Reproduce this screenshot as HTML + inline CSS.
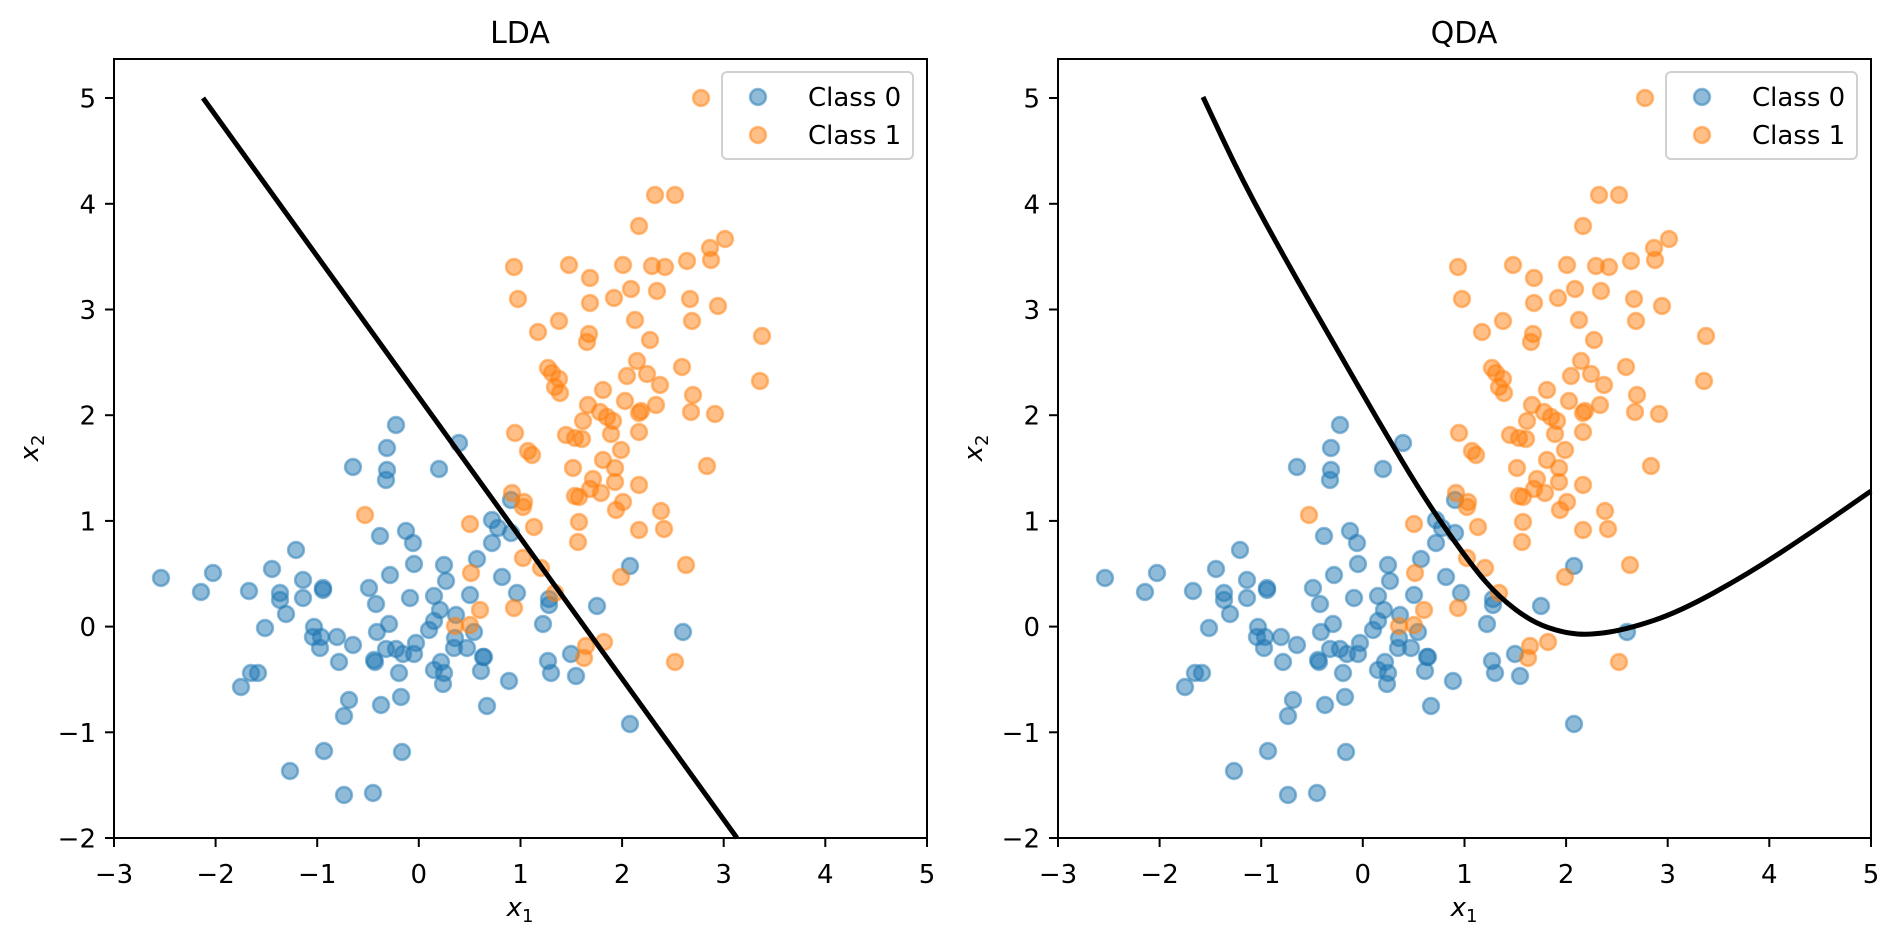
<!DOCTYPE html>
<html><head><meta charset="utf-8"><style>
html,body{margin:0;padding:0;background:#fff;}
svg{display:block;font-family:"DejaVu Sans","Liberation Sans",sans-serif;}
</style></head><body>
<svg width="1900" height="940" viewBox="0 0 1900 940" xmlns="http://www.w3.org/2000/svg">
<defs>
<g id="pts">
<g fill="rgba(31,119,180,0.5)" stroke="rgba(31,119,180,0.5)" stroke-width="2.6">
<circle cx="161" cy="578" r="7.9"/><circle cx="201" cy="592" r="7.9"/><circle cx="213" cy="573" r="7.9"/><circle cx="241" cy="687" r="7.9"/><circle cx="251" cy="673" r="7.9"/><circle cx="258" cy="673" r="7.9"/><circle cx="249" cy="591" r="7.9"/><circle cx="265" cy="628" r="7.9"/><circle cx="272" cy="569" r="7.9"/><circle cx="280" cy="593" r="7.9"/><circle cx="280" cy="600" r="7.9"/><circle cx="286" cy="614" r="7.9"/><circle cx="296" cy="550" r="7.9"/><circle cx="303" cy="580" r="7.9"/><circle cx="303" cy="598" r="7.9"/><circle cx="323" cy="588" r="7.9"/><circle cx="323" cy="590" r="7.9"/><circle cx="314" cy="627" r="7.9"/><circle cx="313" cy="637" r="7.9"/><circle cx="321" cy="637" r="7.9"/><circle cx="320" cy="648" r="7.9"/><circle cx="337" cy="637" r="7.9"/><circle cx="353" cy="645" r="7.9"/><circle cx="339" cy="662" r="7.9"/><circle cx="353" cy="467" r="7.9"/><circle cx="387" cy="448" r="7.9"/><circle cx="396" cy="425" r="7.9"/><circle cx="387" cy="470" r="7.9"/><circle cx="386" cy="480" r="7.9"/><circle cx="290" cy="771" r="7.9"/><circle cx="324" cy="751" r="7.9"/><circle cx="344" cy="795" r="7.9"/><circle cx="373" cy="793" r="7.9"/><circle cx="349" cy="700" r="7.9"/><circle cx="344" cy="716" r="7.9"/><circle cx="381" cy="705" r="7.9"/><circle cx="401" cy="697" r="7.9"/><circle cx="402" cy="752" r="7.9"/><circle cx="380" cy="536" r="7.9"/><circle cx="406" cy="531" r="7.9"/><circle cx="413" cy="543" r="7.9"/><circle cx="414" cy="564" r="7.9"/><circle cx="390" cy="575" r="7.9"/><circle cx="369" cy="588" r="7.9"/><circle cx="376" cy="604" r="7.9"/><circle cx="410" cy="598" r="7.9"/><circle cx="389" cy="624" r="7.9"/><circle cx="377" cy="632" r="7.9"/><circle cx="386" cy="649" r="7.9"/><circle cx="396" cy="649" r="7.9"/><circle cx="403" cy="654" r="7.9"/><circle cx="414" cy="654" r="7.9"/><circle cx="416" cy="643" r="7.9"/><circle cx="374" cy="660" r="7.9"/><circle cx="375" cy="662" r="7.9"/><circle cx="399" cy="673" r="7.9"/><circle cx="439" cy="469" r="7.9"/><circle cx="459" cy="443" r="7.9"/><circle cx="444" cy="565" r="7.9"/><circle cx="446" cy="581" r="7.9"/><circle cx="434" cy="596" r="7.9"/><circle cx="440" cy="610" r="7.9"/><circle cx="434" cy="621" r="7.9"/><circle cx="429" cy="630" r="7.9"/><circle cx="456" cy="615" r="7.9"/><circle cx="455" cy="638" r="7.9"/><circle cx="454" cy="648" r="7.9"/><circle cx="467" cy="648" r="7.9"/><circle cx="470" cy="595" r="7.9"/><circle cx="477" cy="559" r="7.9"/><circle cx="474" cy="632" r="7.9"/><circle cx="483" cy="657" r="7.9"/><circle cx="481" cy="671" r="7.9"/><circle cx="441" cy="662" r="7.9"/><circle cx="434" cy="670" r="7.9"/><circle cx="444" cy="673" r="7.9"/><circle cx="443" cy="684" r="7.9"/><circle cx="492" cy="520" r="7.9"/><circle cx="498" cy="528" r="7.9"/><circle cx="492" cy="543" r="7.9"/><circle cx="502" cy="577" r="7.9"/><circle cx="511" cy="500" r="7.9"/><circle cx="509" cy="681" r="7.9"/><circle cx="487" cy="706" r="7.9"/><circle cx="511" cy="533" r="7.9"/><circle cx="517" cy="593" r="7.9"/><circle cx="549" cy="599" r="7.9"/><circle cx="549" cy="605" r="7.9"/><circle cx="543" cy="624" r="7.9"/><circle cx="597" cy="606" r="7.9"/><circle cx="630" cy="566" r="7.9"/><circle cx="683" cy="632" r="7.9"/><circle cx="571" cy="654" r="7.9"/><circle cx="548" cy="661" r="7.9"/><circle cx="551" cy="673" r="7.9"/><circle cx="576" cy="676" r="7.9"/><circle cx="630" cy="724" r="7.9"/><circle cx="484" cy="657" r="7.9"/>
</g>
<g fill="rgba(255,127,14,0.5)" stroke="rgba(255,127,14,0.5)" stroke-width="2.6">
<circle cx="701" cy="98" r="7.9"/><circle cx="655" cy="195" r="7.9"/><circle cx="675" cy="195" r="7.9"/><circle cx="639" cy="226" r="7.9"/><circle cx="725" cy="239" r="7.9"/><circle cx="710" cy="248" r="7.9"/><circle cx="711" cy="260" r="7.9"/><circle cx="514" cy="267" r="7.9"/><circle cx="569" cy="265" r="7.9"/><circle cx="623" cy="265" r="7.9"/><circle cx="652" cy="266" r="7.9"/><circle cx="665" cy="267" r="7.9"/><circle cx="687" cy="261" r="7.9"/><circle cx="590" cy="278" r="7.9"/><circle cx="518" cy="299" r="7.9"/><circle cx="590" cy="303" r="7.9"/><circle cx="614" cy="298" r="7.9"/><circle cx="631" cy="289" r="7.9"/><circle cx="657" cy="291" r="7.9"/><circle cx="690" cy="299" r="7.9"/><circle cx="718" cy="306" r="7.9"/><circle cx="559" cy="321" r="7.9"/><circle cx="538" cy="332" r="7.9"/><circle cx="635" cy="320" r="7.9"/><circle cx="692" cy="321" r="7.9"/><circle cx="589" cy="334" r="7.9"/><circle cx="587" cy="342" r="7.9"/><circle cx="650" cy="340" r="7.9"/><circle cx="762" cy="336" r="7.9"/><circle cx="548" cy="368" r="7.9"/><circle cx="552" cy="373" r="7.9"/><circle cx="559" cy="379" r="7.9"/><circle cx="555" cy="387" r="7.9"/><circle cx="560" cy="393" r="7.9"/><circle cx="637" cy="361" r="7.9"/><circle cx="627" cy="376" r="7.9"/><circle cx="647" cy="374" r="7.9"/><circle cx="660" cy="385" r="7.9"/><circle cx="682" cy="367" r="7.9"/><circle cx="760" cy="381" r="7.9"/><circle cx="603" cy="390" r="7.9"/><circle cx="625" cy="401" r="7.9"/><circle cx="693" cy="395" r="7.9"/><circle cx="588" cy="405" r="7.9"/><circle cx="600" cy="412" r="7.9"/><circle cx="607" cy="417" r="7.9"/><circle cx="613" cy="421" r="7.9"/><circle cx="641" cy="411" r="7.9"/><circle cx="639" cy="413" r="7.9"/><circle cx="656" cy="405" r="7.9"/><circle cx="691" cy="412" r="7.9"/><circle cx="715" cy="414" r="7.9"/><circle cx="515" cy="433" r="7.9"/><circle cx="583" cy="421" r="7.9"/><circle cx="566" cy="435" r="7.9"/><circle cx="575" cy="438" r="7.9"/><circle cx="582" cy="439" r="7.9"/><circle cx="611" cy="434" r="7.9"/><circle cx="639" cy="432" r="7.9"/><circle cx="528" cy="451" r="7.9"/><circle cx="532" cy="455" r="7.9"/><circle cx="621" cy="450" r="7.9"/><circle cx="603" cy="460" r="7.9"/><circle cx="573" cy="468" r="7.9"/><circle cx="615" cy="468" r="7.9"/><circle cx="707" cy="466" r="7.9"/><circle cx="593" cy="479" r="7.9"/><circle cx="615" cy="482" r="7.9"/><circle cx="639" cy="485" r="7.9"/><circle cx="590" cy="489" r="7.9"/><circle cx="575" cy="496" r="7.9"/><circle cx="579" cy="497" r="7.9"/><circle cx="601" cy="493" r="7.9"/><circle cx="512" cy="493" r="7.9"/><circle cx="524" cy="502" r="7.9"/><circle cx="523" cy="507" r="7.9"/><circle cx="623" cy="502" r="7.9"/><circle cx="616" cy="510" r="7.9"/><circle cx="661" cy="511" r="7.9"/><circle cx="664" cy="529" r="7.9"/><circle cx="639" cy="530" r="7.9"/><circle cx="470" cy="524" r="7.9"/><circle cx="534" cy="527" r="7.9"/><circle cx="579" cy="522" r="7.9"/><circle cx="578" cy="542" r="7.9"/><circle cx="523" cy="558" r="7.9"/><circle cx="541" cy="568" r="7.9"/><circle cx="686" cy="565" r="7.9"/><circle cx="471" cy="573" r="7.9"/><circle cx="621" cy="577" r="7.9"/><circle cx="365" cy="515" r="7.9"/><circle cx="480" cy="610" r="7.9"/><circle cx="470" cy="625" r="7.9"/><circle cx="455" cy="626" r="7.9"/><circle cx="555" cy="593" r="7.9"/><circle cx="514" cy="608" r="7.9"/><circle cx="586" cy="646" r="7.9"/><circle cx="604" cy="642" r="7.9"/><circle cx="584" cy="658" r="7.9"/><circle cx="675" cy="662" r="7.9"/>
</g>
</g>
<g id="frame">
<rect x="114" y="59" width="813" height="779" fill="none" stroke="#000" stroke-width="2"/>
<g stroke="#000" stroke-width="2">
<line x1="114" y1="838" x2="114" y2="847"/><line x1="215.6" y1="838" x2="215.6" y2="847"/><line x1="317.2" y1="838" x2="317.2" y2="847"/><line x1="418.8" y1="838" x2="418.8" y2="847"/><line x1="520.5" y1="838" x2="520.5" y2="847"/><line x1="622.1" y1="838" x2="622.1" y2="847"/><line x1="723.7" y1="838" x2="723.7" y2="847"/><line x1="825.3" y1="838" x2="825.3" y2="847"/><line x1="927" y1="838" x2="927" y2="847"/>
<line x1="105" y1="838" x2="114" y2="838"/><line x1="105" y1="732.3" x2="114" y2="732.3"/><line x1="105" y1="626.6" x2="114" y2="626.6"/><line x1="105" y1="520.9" x2="114" y2="520.9"/><line x1="105" y1="415.2" x2="114" y2="415.2"/><line x1="105" y1="309.5" x2="114" y2="309.5"/><line x1="105" y1="203.8" x2="114" y2="203.8"/><line x1="105" y1="98" x2="114" y2="98"/>
</g>
<g font-size="26" fill="#000" text-anchor="middle">
<text x="114" y="883">−3</text><text x="215.6" y="883">−2</text><text x="317.2" y="883">−1</text><text x="418.8" y="883">0</text><text x="520.5" y="883">1</text><text x="622.1" y="883">2</text><text x="723.7" y="883">3</text><text x="825.3" y="883">4</text><text x="927" y="883">5</text>
</g>
<g font-size="26" fill="#000" text-anchor="end">
<text x="96" y="847.5">−2</text><text x="96" y="741.8">−1</text><text x="96" y="636.1">0</text><text x="96" y="530.4">1</text><text x="96" y="424.7">2</text><text x="96" y="319">3</text><text x="96" y="213.3">4</text><text x="96" y="107.5">5</text>
</g>
<text x="520" y="916" font-size="26" text-anchor="middle"><tspan font-style="italic">x</tspan><tspan font-size="18" dy="6">1</tspan></text>
<text transform="translate(38,448) rotate(-90)" font-size="26" text-anchor="middle"><tspan font-style="italic">x</tspan><tspan font-size="18" dy="6">2</tspan></text>
<rect x="722" y="72" width="191" height="87" rx="5" fill="rgba(255,255,255,0.8)" stroke="#d0d0d0" stroke-width="2"/>
<circle cx="758" cy="97" r="7.9" fill="rgba(31,119,180,0.5)" stroke="rgba(31,119,180,0.5)" stroke-width="2.6"/>
<circle cx="758" cy="135" r="7.9" fill="rgba(255,127,14,0.5)" stroke="rgba(255,127,14,0.5)" stroke-width="2.6"/>
<text x="808" y="106" font-size="26">Class 0</text>
<text x="808" y="144" font-size="26">Class 1</text>
</g>
</defs>

<use href="#pts"/>
<line x1="203" y1="98" x2="737" y2="838" stroke="#000" stroke-width="5"/>
<use href="#frame"/>
<text x="520" y="43" font-size="30" text-anchor="middle">LDA</text>

<g transform="translate(944,0)"><use href="#pts"/></g>
<path fill="none" stroke="#000" stroke-width="5" stroke-linejoin="round" d="M1203,97 L1222.5,138.5 Q1242,180 1265,222 Q1288,264 1311,304 Q1334,344 1357,384 Q1380,424 1403,462.5 Q1426,501 1449,533.5 Q1472,566 1485.5,581.5 Q1499,597 1515.5,609.5 Q1532,622 1548,627.5 Q1564,633 1577.5,634 Q1591,635 1609.5,632 Q1628,629 1653.5,620.5 Q1679,612 1713.5,593 Q1748,574 1780,553 Q1812,532 1841.5,511.5 L1871,491"/>
<g transform="translate(944,0)"><use href="#frame"/></g>
<text x="1464" y="43" font-size="30" text-anchor="middle">QDA</text>
</svg>
</body></html>
